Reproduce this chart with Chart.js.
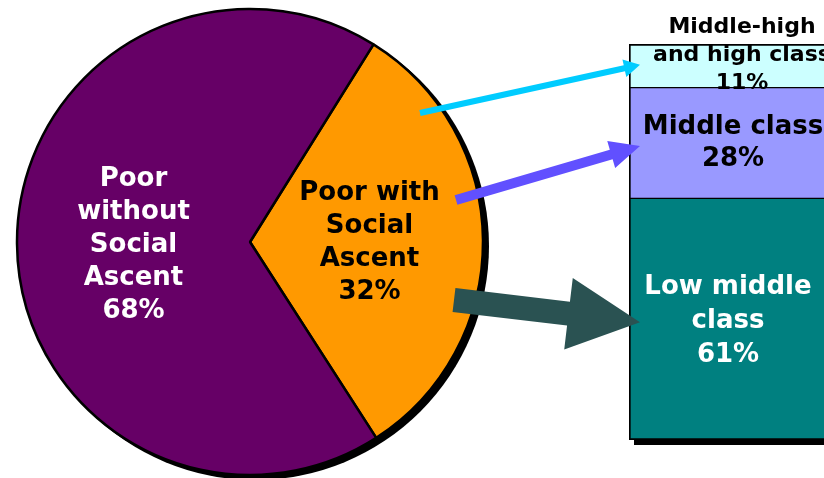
<!DOCTYPE html>
<html>
<head>
<meta charset="utf-8">
<script src="https://cdn.jsdelivr.net/npm/chart.js@4.4.0/dist/chart.umd.min.js"></script>
<style>
  html, body { margin: 0; padding: 0; background: #fff; overflow: hidden; width: 824px; height: 478px; }
  #wrap { position: relative; width: 824px; height: 478px; overflow: hidden; }
  #wrap canvas { position: absolute; left: 0; top: 0; }
</style>
</head>
<body>
<div id="wrap">
  <canvas id="pie" width="824" height="478"></canvas>
  <canvas id="bar" width="900" height="478"></canvas>
</div>
<script>
// ---- data ----
const pieLabels = [["Poor with", "Social", "Ascent", "32%"], ["Poor", "without", "Social", "Ascent", "68%"]];
const pieValues = [32, 68];
const pieColors = ["#FF9900", "#660066"];
const pieTextColors = ["#000000", "#FFFFFF"];

// stacked from bottom to top
const barLabels = [["Low middle", "class", "61%"], ["Middle class", "28%"], ["Middle-high", "and high class", "11%"]];
const barValues = [61, 28, 11];
const barColors = ["#008080", "#9999FF", "#CCFFFF"];
const barTextColors = ["#FFFFFF", "#000000", "#000000"];

// arrow colours, bottom segment first
const arrowColors = ["#2A5252", "#6150FF", "#00CCFF"];

const FAMILY = "'DejaVu Sans', Verdana, sans-serif";

// ---- pie ----
const pieShadow = {
  id: "pieShadow",
  beforeDatasetsDraw(chart) {
    const a = chart.getDatasetMeta(0).data[0];
    const ctx = chart.ctx;
    ctx.save();
    ctx.fillStyle = "#000";
    ctx.beginPath();
    ctx.arc(a.x + 5, a.y + 4, a.outerRadius + 1, 0, Math.PI * 2);
    ctx.fill();
    ctx.restore();
  }
};

const pieText = {
  id: "pieText",
  afterDatasetsDraw(chart) {
    const ctx = chart.ctx;
    const lh = 33;
    ctx.save();
    ctx.font = "bold 26px " + FAMILY;
    ctx.textAlign = "center";
    ctx.textBaseline = "middle";
    chart.getDatasetMeta(0).data.forEach((arc, i) => {
      const p = arc.getCenterPoint();
      const lines = pieLabels[i];
      const y0 = p.y + 2 - (lines.length - 1) * lh / 2;
      ctx.fillStyle = pieTextColors[i];
      lines.forEach((t, k) => ctx.fillText(t, p.x + (i === 0 ? 3 : 0), y0 + k * lh));
    });
    ctx.restore();
  }
};

const pieChart = new Chart(document.getElementById("pie"), {
  type: "pie",
  data: {
    labels: pieLabels.map(l => l.join(" ")),
    datasets: [{
      data: pieValues,
      backgroundColor: pieColors,
      borderColor: "#000",
      borderWidth: 2.5
    }]
  },
  options: {
    responsive: false,
    animation: false,
    events: [],
    rotation: 32,
    radius: 233,
    layout: { padding: { left: 17, right: 341, top: 9, bottom: 3 } },
    plugins: { legend: { display: false }, tooltip: { enabled: false } }
  },
  plugins: [pieShadow, pieText]
});

// ---- stacked bar ----
const barBorders = [
  { left: 2, right: 2, top: 1, bottom: 2 },
  { left: 2, right: 2, top: 1, bottom: 1 },
  { left: 2, right: 2, top: 2, bottom: 1 }
];
// text tweaks per segment: font size, line height, dx, dy
const barTextLayout = [
  { size: 26, lh: 34, dx: -5, dy: 2 },
  { size: 26, lh: 32, dx: 0, dy: 0 },
  { size: 22, lh: 28, dx: 9, dy: -10 }
];

const barShadow = {
  id: "barShadow",
  beforeDatasetsDraw(chart) {
    const els = chart.data.datasets.map((d, i) => chart.getDatasetMeta(i).data[0]);
    const top = Math.min(...els.map(e => e.y));
    const bottom = Math.max(...els.map(e => e.base));
    const e = els[0];
    const ctx = chart.ctx;
    ctx.save();
    ctx.fillStyle = "#000";
    ctx.fillRect(e.x - e.width / 2 + 5, top + 5, e.width, bottom - top);
    ctx.restore();
  }
};

function drawArrow(ctx, x0, y0, x1, y1, shaft, headW, headL, color) {
  const a = Math.atan2(y1 - y0, x1 - x0);
  const len = Math.hypot(x1 - x0, y1 - y0);
  ctx.save();
  ctx.translate(x0, y0);
  ctx.rotate(a);
  ctx.fillStyle = color;
  ctx.beginPath();
  ctx.moveTo(0, -shaft / 2);
  ctx.lineTo(len - headL, -shaft / 2);
  ctx.lineTo(len - headL, -headW / 2);
  ctx.lineTo(len, 0);
  ctx.lineTo(len - headL, headW / 2);
  ctx.lineTo(len - headL, shaft / 2);
  ctx.lineTo(0, shaft / 2);
  ctx.closePath();
  ctx.fill();
  ctx.restore();
}

// arrow start offsets from the pie centre, sizes
const arrowStyle = [
  { sx: 204, sy: 58, shaft: 24, headW: 72, headL: 72, tipDy: 3 },
  { sx: 206, sy: -42, shaft: 10, headW: 28, headL: 30, tipDy: 3 },
  { sx: 170, sy: -129, shaft: 6, headW: 18, headL: 16, tipDy: -1 }
];

const barOverlay = {
  id: "barOverlay",
  afterDatasetsDraw(chart) {
    const ctx = chart.ctx;
    const pc = pieChart.getDatasetMeta(0).data[0];
    chart.data.datasets.forEach((d, i) => {
      const e = chart.getDatasetMeta(i).data[0];
      const s = arrowStyle[i];
      const left = e.x - e.width / 2;
      const cy = (e.y + e.base) / 2;
      drawArrow(ctx, pc.x + s.sx, pc.y + s.sy, left + 11, cy + s.tipDy, s.shaft, s.headW, s.headL, arrowColors[i]);
    });
    ctx.save();
    ctx.textAlign = "center";
    ctx.textBaseline = "middle";
    chart.data.datasets.forEach((d, i) => {
      const e = chart.getDatasetMeta(i).data[0];
      const L = barTextLayout[i];
      const lines = barLabels[i];
      const cy = (e.y + e.base) / 2 + L.dy;
      const y0 = cy - (lines.length - 1) * L.lh / 2;
      ctx.font = "bold " + L.size + "px " + FAMILY;
      ctx.fillStyle = barTextColors[i];
      lines.forEach((t, k) => ctx.fillText(t, e.x + L.dx, y0 + k * L.lh));
    });
    ctx.restore();
  }
};

new Chart(document.getElementById("bar"), {
  type: "bar",
  data: {
    labels: [""],
    datasets: barValues.map((v, i) => ({
      label: barLabels[i].join(" "),
      data: [v],
      backgroundColor: barColors[i],
      borderColor: "#000",
      borderWidth: barBorders[i],
      borderSkipped: false,
      barPercentage: 1,
      categoryPercentage: 1
    }))
  },
  options: {
    responsive: false,
    animation: false,
    events: [],
    layout: { padding: { left: 629, right: 63, top: 44, bottom: 38 } },
    scales: {
      x: { display: false, stacked: true },
      y: { display: false, stacked: true, min: 0, max: 100 }
    },
    plugins: { legend: { display: false }, tooltip: { enabled: false } }
  },
  plugins: [barShadow, barOverlay]
});
</script>
</body>
</html>
